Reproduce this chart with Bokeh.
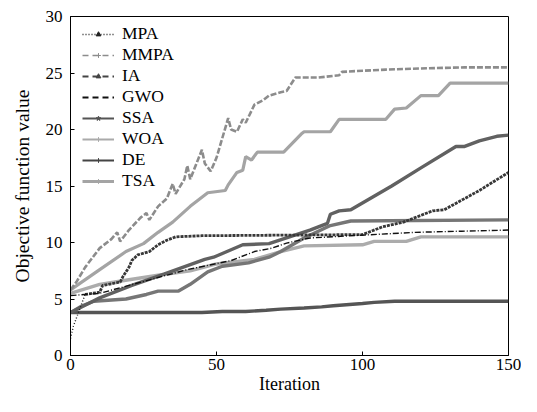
import math
from bokeh.plotting import figure
from bokeh.models import FixedTicker, Legend, LegendItem
from bokeh.embed import file_html
from bokeh.resources import INLINE

# ---------------- data ----------------
MPA_x = [0, 1, 2, 4, 5, 10, 11, 17, 18, 20, 21, 23, 27, 30, 33, 36, 45, 100, 107, 114, 124, 128, 140, 150]
MPA_y = [1.5, 2.6, 3.3, 4.7, 5.4, 5.6, 6.2, 6.5, 7.0, 7.8, 8.4, 8.9, 9.2, 9.8, 10.2, 10.5, 10.6, 10.7, 11.4, 11.8, 12.8, 12.9, 14.6, 16.2]

MMPA_x = [0, 2, 5, 10, 14, 16, 17, 20, 24, 26, 27, 30, 33, 35, 36, 39, 40, 41, 45, 46, 48, 50, 54, 55, 57, 59, 60, 63, 66, 68, 72, 74, 77, 85, 92, 93, 100, 108, 120, 135, 150]
MMPA_y = [5.8, 6.5, 7.8, 9.5, 10.3, 10.9, 10.1, 11.1, 12.2, 12.6, 12.0, 13.2, 13.9, 15.2, 14.3, 15.6, 16.8, 15.6, 18.2, 17.0, 16.3, 17.5, 21.0, 20.0, 19.8, 20.9, 20.6, 22.2, 22.6, 23.0, 23.3, 23.4, 24.6, 24.6, 24.8, 25.1, 25.2, 25.3, 25.4, 25.5, 25.5]

IA_x = [0, 4, 8, 19, 26, 30, 37, 41, 47, 52, 61, 68, 72, 80, 89, 96, 150]
IA_y = [3.8, 4.4, 4.8, 5.0, 5.4, 5.7, 5.7, 6.3, 7.4, 7.9, 8.2, 8.7, 9.2, 10.4, 11.5, 11.9, 12.0]

GWO_x = [0, 10, 20, 30, 40, 55, 63, 69, 74, 82, 100, 118, 134, 150]
GWO_y = [5.3, 5.5, 6.2, 6.9, 7.6, 8.4, 9.2, 9.5, 9.95, 10.4, 10.65, 10.9, 11.0, 11.1]

SSA_x = [0, 10, 21, 32, 46, 49, 59, 68, 75, 82, 88, 89, 92, 96, 110, 120, 132, 135, 140, 146, 150]
SSA_y = [3.8, 5.1, 6.2, 7.2, 8.5, 8.7, 9.8, 9.9, 10.5, 11.1, 11.7, 12.5, 12.8, 12.9, 15.0, 16.6, 18.5, 18.5, 19.0, 19.4, 19.5]

WOA_x = [0, 10, 20, 30, 41, 50, 63, 72, 80, 100, 104, 115, 120, 150]
WOA_y = [5.5, 6.3, 6.7, 7.1, 7.5, 8.1, 8.5, 9.2, 9.7, 9.8, 10.1, 10.1, 10.5, 10.5]

DE_x = [0, 45, 52, 60, 67, 72, 80, 86, 90, 100, 104, 111, 150]
DE_y = [3.8, 3.8, 3.9, 3.9, 4.0, 4.1, 4.2, 4.3, 4.4, 4.6, 4.7, 4.8, 4.8]

TSA_x = [0, 10, 19, 25, 30, 35, 41, 47, 53, 54, 57, 59, 60, 62, 64, 73, 79, 80, 89, 92, 108, 111, 115, 120, 126, 130, 150]
TSA_y = [5.8, 7.6, 9.2, 9.9, 10.9, 11.8, 13.2, 14.4, 14.6, 15.1, 16.2, 16.4, 17.6, 17.3, 18.0, 18.0, 19.6, 19.8, 19.8, 20.9, 20.9, 21.8, 21.9, 23.0, 23.0, 24.1, 24.1]

x_ticks = [0, 50, 100, 150]
y_ticks = [0, 5, 10, 15, 20, 25, 30]

FONT = "Liberation Serif"

p = figure(width=521, height=396, x_range=(0, 150), y_range=(0, 30),
           output_backend="svg", toolbar_location=None,
           min_border_left=70, min_border_right=13, min_border_top=16, min_border_bottom=40)

p.xgrid.visible = False
p.ygrid.visible = False
p.outline_line_color = "black"
p.outline_line_width = 1
p.background_fill_color = "white"

for ax in (p.xaxis[0], p.yaxis[0]):
    ax.major_tick_in = 4
    ax.major_tick_out = 0
    ax.minor_tick_line_color = None
    ax.axis_line_color = "black"
    ax.major_tick_line_color = "black"
    ax.major_label_text_font = FONT
    ax.major_label_text_font_size = "17px"
    ax.major_label_text_color = "black"
    ax.axis_label_text_font = FONT
    ax.axis_label_text_font_style = "normal"
    ax.axis_label_text_color = "black"

p.xaxis.axis_label_text_font_size = "18px"
p.yaxis.axis_label_text_font_size = "19.5px"
p.xaxis.ticker = FixedTicker(ticks=x_ticks)
p.yaxis.ticker = FixedTicker(ticks=y_ticks)
p.xaxis.axis_label = "Iteration"
p.yaxis.axis_label = "Objective function value"
p.xaxis.major_label_standoff = 3
p.xaxis.axis_label_standoff = 1
p.yaxis.major_label_standoff = 8
p.yaxis.axis_label_standoff = 10

# curve look inside the plot (dense markers in the original read as thick lines)
plot_style = {
    "MPA":  dict(color="#383838", width=2.8, dash="3 1"),
    "MMPA": dict(color="#8c8c8c", width=2.6, dash="6 2"),
    "IA":   dict(color="#767676", width=3.4, dash="solid"),
    "GWO":  dict(color="#111111", width=1.4, dash="6 2 1 2"),
    "SSA":  dict(color="#616161", width=3.4, dash="solid"),
    "WOA":  dict(color="#acacac", width=3.4, dash="solid"),
    "DE":   dict(color="#555555", width=3.4, dash="solid"),
    "TSA":  dict(color="#a4a4a4", width=3.2, dash="solid"),
}
# legend sample look
legend_style = {
    "MPA":  dict(color="#222222", width=1.3, dash="1 2", marker="triangle", angle=math.pi / 2),
    "MMPA": dict(color="#8c8c8c", width=1.6, dash="6 4", marker="cross", angle=0),
    "IA":   dict(color="#444444", width=1.8, dash="6 4", marker="triangle", angle=0),
    "GWO":  dict(color="#111111", width=2.0, dash="6 4", marker=None, angle=0),
    "SSA":  dict(color="#555555", width=2.0, dash="solid", marker="star", angle=0),
    "WOA":  dict(color="#aaaaaa", width=2.0, dash="solid", marker="cross", angle=0),
    "DE":   dict(color="#444444", width=2.0, dash="solid", marker="cross", angle=0),
    "TSA":  dict(color="#a4a4a4", width=3.0, dash="solid", marker="cross", angle=0),
}

data = [
    ("MPA", MPA_x, MPA_y), ("MMPA", MMPA_x, MMPA_y), ("IA", IA_x, IA_y),
    ("GWO", GWO_x, GWO_y), ("SSA", SSA_x, SSA_y), ("WOA", WOA_x, WOA_y),
    ("DE", DE_x, DE_y), ("TSA", TSA_x, TSA_y),
]
draw_order = ["TSA", "WOA", "MMPA", "IA", "DE", "SSA", "MPA", "GWO"]
lookup = {n: (xs, ys) for n, xs, ys in data}

for name in draw_order:
    xs, ys = lookup[name]
    st = plot_style[name]
    if name == "MPA":
        # first few iterations of MPA read as a thin dotted line, later part as a thick marked line
        p.line(xs[:5], ys[:5], line_color="#222222", line_width=1.4, line_dash="1 2")
        p.line(xs[4:], ys[4:], line_color=st["color"], line_width=st["width"], line_dash=st["dash"])
    else:
        p.line(xs, ys, line_color=st["color"], line_width=st["width"], line_dash=st["dash"])

items = []
for name, xs, ys in data:
    st = legend_style[name]
    rs = [p.line(xs, ys, line_color=st["color"], line_width=st["width"], line_dash=st["dash"], visible=False)]
    if st["marker"]:
        rs.append(p.scatter(xs, ys, marker=st["marker"], angle=st["angle"], size=5,
                            line_color=st["color"], fill_color=st["color"], visible=False))
    items.append(LegendItem(label=name, renderers=rs))

legend = Legend(items=items, location=(10, 162))
legend.label_text_font = FONT
legend.label_text_font_size = "17.5px"
legend.label_text_color = "black"
legend.glyph_width = 32
legend.glyph_height = 12
legend.label_height = 21
legend.spacing = 0
legend.padding = 2
legend.margin = 0
legend.label_standoff = 8
legend.border_line_alpha = 0
legend.background_fill_alpha = 0
legend.inactive_fill_alpha = 0
p.add_layout(legend)

open("out.html", "w").write(file_html(p, INLINE))
